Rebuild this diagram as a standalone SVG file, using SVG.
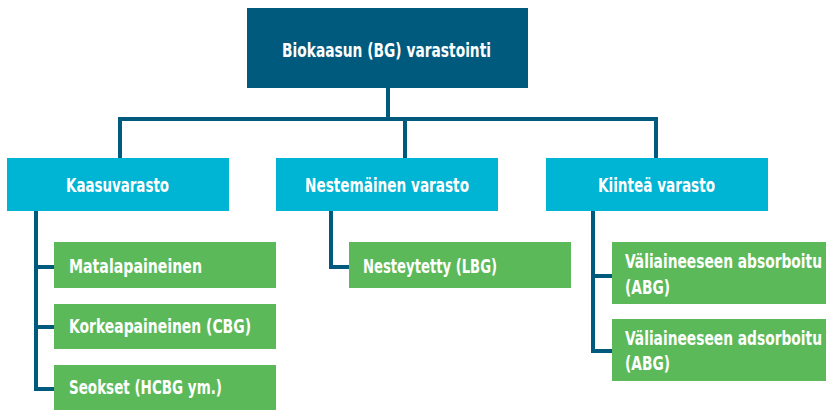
<svg xmlns="http://www.w3.org/2000/svg" width="826" height="410" viewBox="0 0 826 410">
  <style>
    .root { fill: #005a7d; }
    .cat { fill: #00b4d4; }
    .leaf { fill: #5cb95a; }
    .lbl { fill: #ffffff; font-family: "DejaVu Sans Condensed", "Liberation Sans Narrow", "Liberation Sans", sans-serif; font-weight: bold; font-size: 20px; }
    .mid { text-anchor: middle; }
    .wire { fill: none; stroke: #005a7d; stroke-width: 4; stroke-linejoin: miter; }
  </style>
  <rect width="826" height="410" fill="#ffffff"/>

  <g id="connectors">
    <path class="wire" d="M388 88 V119 M120 158 V119 H656 V158 M405 119 V158"/>
    <path class="wire" d="M36 211 V389 H54 M36 267 H54 M36 327 H54"/>
    <path class="wire" d="M331 211 V267 H349"/>
    <path class="wire" d="M593 211 V351 H612 M593 276 H612"/>
  </g>

  <g id="storage">
    <rect class="root" x="247" y="8" width="281" height="80"/>
    <text class="lbl mid" x="386.5" y="57" textLength="209" lengthAdjust="spacingAndGlyphs">Biokaasun (BG) varastointi</text>
  </g>

  <g id="gas">
    <rect class="cat" x="7" y="158" width="222" height="53"/>
    <text class="lbl mid" x="117.5" y="192" textLength="103" lengthAdjust="spacingAndGlyphs">Kaasuvarasto</text>
  </g>
  <g id="liquid">
    <rect class="cat" x="276" y="158" width="222" height="53"/>
    <text class="lbl mid" x="387" y="192" textLength="164" lengthAdjust="spacingAndGlyphs">Nestemäinen varasto</text>
  </g>
  <g id="solid">
    <rect class="cat" x="546" y="158" width="222" height="53"/>
    <text class="lbl mid" x="656.5" y="192" textLength="117" lengthAdjust="spacingAndGlyphs">Kiinteä varasto</text>
  </g>

  <g id="low-pressure">
    <rect class="leaf" x="54" y="242" width="222" height="46"/>
    <text class="lbl" x="69" y="273" textLength="133" lengthAdjust="spacingAndGlyphs">Matalapaineinen</text>
  </g>
  <g id="high-pressure">
    <rect class="leaf" x="54" y="304" width="222" height="45"/>
    <text class="lbl" x="69" y="333" textLength="182" lengthAdjust="spacingAndGlyphs">Korkeapaineinen (CBG)</text>
  </g>
  <g id="mixtures">
    <rect class="leaf" x="54" y="365" width="222" height="45"/>
    <text class="lbl" x="69" y="394" textLength="153" lengthAdjust="spacingAndGlyphs">Seokset (HCBG ym.)</text>
  </g>

  <g id="liquefied">
    <rect class="leaf" x="349" y="242" width="222" height="46"/>
    <text class="lbl" x="363" y="273" textLength="134" lengthAdjust="spacingAndGlyphs">Nesteytetty (LBG)</text>
  </g>

  <g id="absorbed">
    <rect class="leaf" x="612" y="242" width="222" height="62"/>
    <text class="lbl" x="625" y="268" textLength="197" lengthAdjust="spacingAndGlyphs">Väliaineeseen absorboitu</text>
    <text class="lbl" x="625" y="294" textLength="45" lengthAdjust="spacingAndGlyphs">(ABG)</text>
  </g>
  <g id="adsorbed">
    <rect class="leaf" x="612" y="319" width="222" height="62"/>
    <text class="lbl" x="625" y="345" textLength="197" lengthAdjust="spacingAndGlyphs">Väliaineeseen adsorboitu</text>
    <text class="lbl" x="625" y="370" textLength="45" lengthAdjust="spacingAndGlyphs">(ABG)</text>
  </g>
</svg>
